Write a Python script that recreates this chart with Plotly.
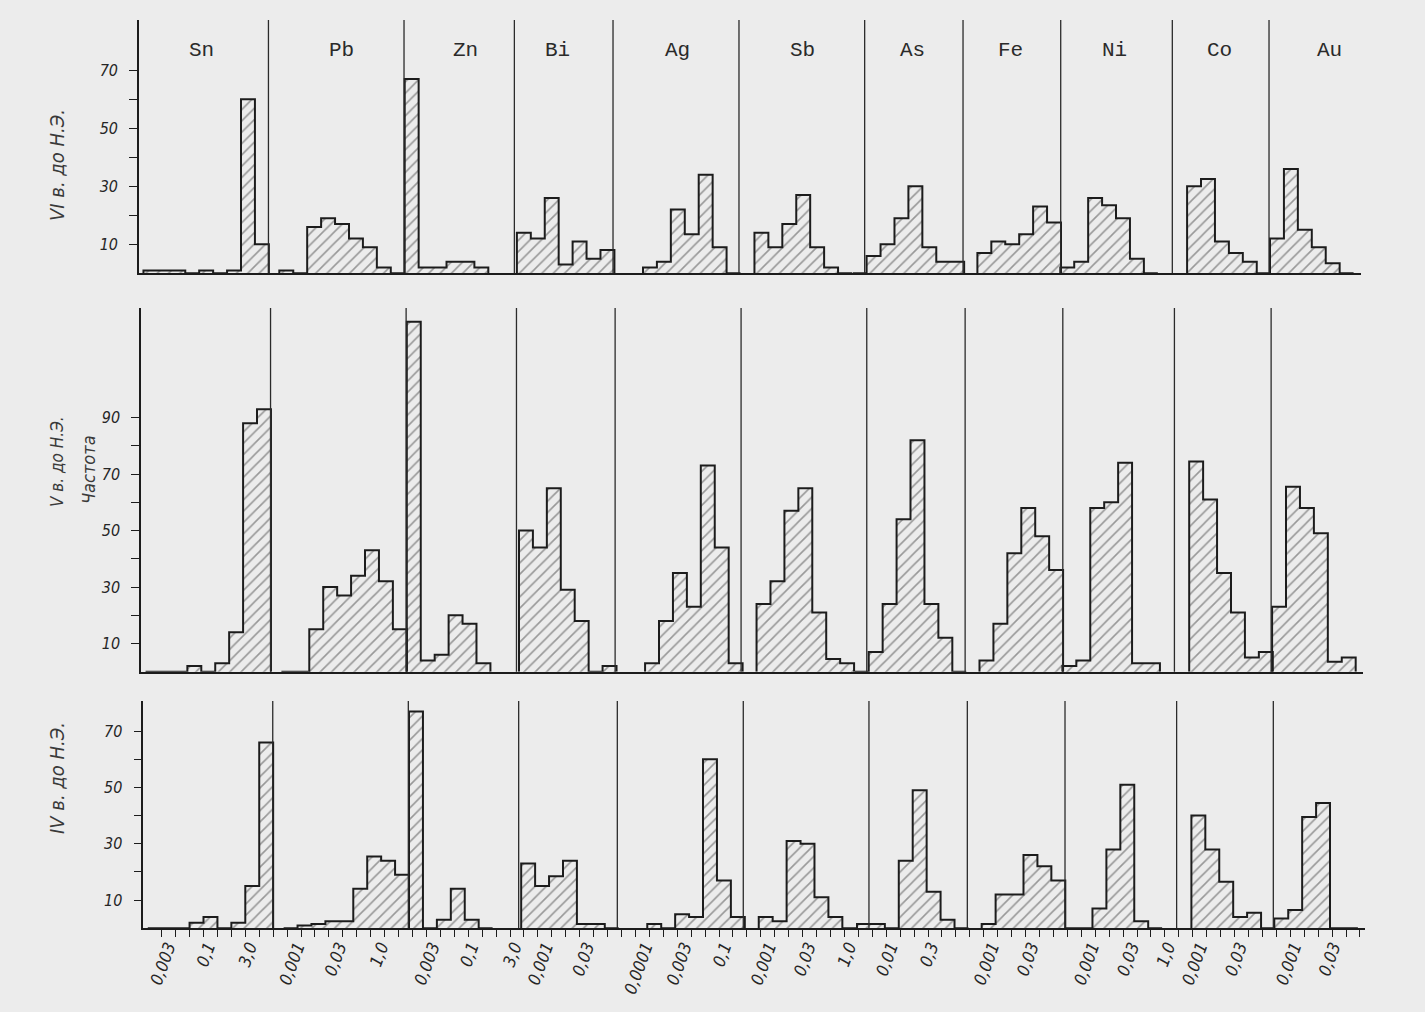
import plotly.graph_objects as go

# ---------------- data ----------------
ELEMENTS = ["Sn", "Pb", "Zn", "Bi", "Ag", "Sb", "As", "Fe", "Ni", "Co", "Au"]
PERIODS = ["VI в. до Н.Э.", "V в. до Н.Э.", "IV в. до Н.Э."]
Y_TITLE = "Частота"

# frequency per half-decade concentration bin (rows: VI, V, IV c. BC)
SN_VI = [1, 1, 1, 0, 1, 0, 1, 60, 10]
SN_V = [0, 0, 0, 2, 0, 3, 14, 88, 93]
SN_IV = [0, 0, 0, 2, 4, 0, 2, 15, 66]

PB_VI = [1, 0, 16, 19, 17, 12, 9, 2, 0]
PB_V = [0, 0, 15, 30, 27, 34, 43, 32, 15]
PB_IV = [0, 1, 1.5, 2.5, 2.5, 14, 25.5, 24, 19]

ZN_VI = [67, 2, 2, 4, 4, 2]
ZN_V = [124, 4, 6, 20, 17, 3]
ZN_IV = [77, 0, 3, 14, 3, 0]

BI_VI = [14, 12, 26, 3, 11, 5, 8]
BI_V = [50, 44, 65, 29, 18, 0, 2]
BI_IV = [23, 15, 18.5, 24, 1.5, 1.5, 0]

AG_VI = [2, 4, 22, 13.5, 34, 9, 0]
AG_V = [3, 18, 35, 23, 73, 44, 3]
AG_IV = [1.5, 0, 5, 4, 60, 17, 4]

SB_VI = [14, 9, 17, 27, 9, 2, 0]
SB_V = [24, 32, 57, 65, 21, 4.5, 3]
SB_IV = [4, 2.5, 31, 30, 11, 4, 0]

AS_VI = [0, 6, 10, 19, 30, 9, 4, 4]
AS_V = [0, 7, 24, 54, 82, 24, 12, 0]
AS_IV = [1.5, 1.5, 0, 24, 49, 13, 3, 0]

FE_VI = [7, 11, 10, 13.5, 23, 17.5]
FE_V = [4, 17, 42, 58, 48, 36]
FE_IV = [1.5, 12, 12, 26, 22, 17]

NI_VI = [2, 4, 26, 23.5, 19, 5, 0]
NI_V = [2, 4, 58, 60, 74, 3, 3]
NI_IV = [0, 0, 7, 28, 51, 2.5, 0]

CO_VI = [30, 32.5, 11, 7, 4, 0]
CO_V = [74.5, 61, 35, 21, 5, 7]
CO_IV = [40, 28, 16.5, 4, 5.5, 0]

AU_VI = [12, 36, 15, 9, 3.5, 0]
AU_V = [23, 65.5, 58, 49, 3.5, 5]
AU_IV = [3.5, 6.5, 39.5, 44.5, 0, 0]

# concentration tick labels (%) per element
TICKS = {
    "Sn": ["0,003", "0,1", "3,0"],
    "Pb": ["0,001", "0,03", "1,0"],
    "Zn": ["0,003", "0,1", "3,0"],
    "Bi": ["0,001", "0,03"],
    "Ag": ["0,0001", "0,003", "0,1"],
    "Sb": ["0,001", "0,03", "1,0"],
    "As": ["0,01", "0,3"],
    "Fe": ["0,001", "0,03"],
    "Ni": ["0,001", "0,03", "1,0"],
    "Co": ["0,001", "0,03"],
    "Au": ["0,001", "0,03"],
}

COUNTS = {
    "Sn": [SN_VI, SN_V, SN_IV], "Pb": [PB_VI, PB_V, PB_IV], "Zn": [ZN_VI, ZN_V, ZN_IV],
    "Bi": [BI_VI, BI_V, BI_IV], "Ag": [AG_VI, AG_V, AG_IV], "Sb": [SB_VI, SB_V, SB_IV],
    "As": [AS_VI, AS_V, AS_IV], "Fe": [FE_VI, FE_V, FE_IV], "Ni": [NI_VI, NI_V, NI_IV],
    "Co": [CO_VI, CO_V, CO_IV], "Au": [AU_VI, AU_V, AU_IV],
}

# ---------------- layout (positions in bin units on a shared log-concentration strip) ----------------
BIN_START = {"Sn": -1, "Pb": 8.75, "Zn": 17.75, "Bi": 25.8, "Ag": 34.85, "Sb": 42.85,
             "As": 49.9, "Fe": 58.85, "Ni": 64.8, "Co": 73.9, "Au": 79.85}
PANEL_LEFT = {"Sn": -1.32, "Pb": 7.97, "Zn": 17.7, "Bi": 25.62, "Ag": 32.7, "Sb": 41.74,
              "As": 50.76, "Fe": 57.82, "Ni": 64.83, "Co": 72.84, "Au": 79.78}
NAME_POS = {"Sn": 3.2, "Pb": 13.2, "Zn": 22.1, "Bi": 28.7, "Ag": 37.3, "Sb": 46.3,
            "As": 54.2, "Fe": 61.2, "Ni": 68.7, "Co": 76.2, "Au": 84.1}
TICK_POS = {
    "Sn": [0.45, 3.3, 6.3], "Pb": [9.71, 12.72, 15.73], "Zn": [19.4, 22.2, 25.3],
    "Bi": [27.55, 30.5], "Ag": [34.7, 37.5, 40.35], "Sb": [43.55, 46.4, 49.3],
    "As": [52.3, 55.2], "Fe": [59.56, 62.4], "Ni": [66.74, 69.6, 72.2],
    "Co": [74.5, 77.35], "Au": [81.25, 84.05],
}
X_RANGE = [-1.32, 86.36]

W, H = 1425, 1012
BG = "#ececec"
INK = "#1c1c1c"
ROW_PX_LEFT = [139.0, 141.1, 143.3]
ROW_PX_RIGHT = [1360.7, 1362.8, 1365.0]
ROW_PX_TOP = [20, 308, 701]
ROW_PX_BASE = [273.3, 671.7, 928.3]
ROW_PX_PER_UNIT = [2.9, 2.823, 2.817]
ROW_YTICKS = [list(range(10, 80, 10)), list(range(10, 100, 10)), list(range(10, 80, 10))]

NUM_FONT = dict(family="Liberation Sans Narrow, DejaVu Sans Condensed, DejaVu Sans",
                size=17, color="#262626", style="italic")

fig = go.Figure()

for r in range(3):
    xa = "x" if r == 0 else f"x{r + 1}"
    ya = "y" if r == 0 else f"y{r + 1}"
    for el in ELEMENTS:
        vals = COUNTS[el][r]
        start = BIN_START[el]
        bx = [start + i + 0.5 for i, v in enumerate(vals) if v > 0]
        by = [v for v in vals if v > 0]
        fig.add_trace(go.Bar(
            x=bx, y=by, width=1.0, xaxis=xa, yaxis=ya, showlegend=False,
            marker=dict(color="#444444",
                        pattern=dict(shape="/", fgcolor="#444444", bgcolor=BG,
                                     size=8, solidity=0.2),
                        line=dict(width=0)),
            hoverinfo="skip"))
        # stepped outline of the histogram
        ox, oy = [start], [0]
        for i, v in enumerate(vals):
            ox += [start + i, start + i + 1]
            oy += [v, v]
        ox.append(start + len(vals))
        oy.append(0)
        fig.add_trace(go.Scatter(x=ox, y=oy, mode="lines", xaxis=xa, yaxis=ya,
                                 line=dict(color=INK, width=2), showlegend=False,
                                 hoverinfo="skip"))
    # panel separators
    for el in ELEMENTS[1:]:
        fig.add_shape(type="line", xref=xa, yref=f"{ya} domain",
                      x0=PANEL_LEFT[el], x1=PANEL_LEFT[el], y0=0, y1=1,
                      line=dict(color="#2b2b2b", width=1.3), layer="above")

layout = dict(
    width=W, height=H, margin=dict(l=0, r=0, t=0, b=0),
    paper_bgcolor=BG, plot_bgcolor=BG, barmode="overlay", showlegend=False,
    bargap=0,
)

for r in range(3):
    xkey = "xaxis" if r == 0 else f"xaxis{r + 1}"
    ykey = "yaxis" if r == 0 else f"yaxis{r + 1}"
    ya = "y" if r == 0 else f"y{r + 1}"
    xa = "x" if r == 0 else f"x{r + 1}"
    ytop = (ROW_PX_BASE[r] - ROW_PX_TOP[r]) / ROW_PX_PER_UNIT[r]
    xax = dict(domain=[ROW_PX_LEFT[r] / W, ROW_PX_RIGHT[r] / W], range=X_RANGE,
               anchor=ya, showgrid=False, zeroline=False, showline=True,
               linecolor=INK, linewidth=2.2, fixedrange=True)
    if r == 2:
        tv, tt = [], []
        for el in ELEMENTS:
            tv += TICK_POS[el]
            tt += TICKS[el]
        xax.update(tickmode="array", tickvals=tv, ticktext=tt, tickangle=-70,
                   ticks="", tickfont=NUM_FONT,
                   minor=dict(tickmode="array", tickvals=list(range(0, 87)),
                              ticks="outside", ticklen=7, tickwidth=1.2,
                              tickcolor=INK, showgrid=False))
    else:
        xax.update(showticklabels=False, ticks="")
    yax = dict(domain=[1 - ROW_PX_BASE[r] / H, 1 - ROW_PX_TOP[r] / H],
               range=[0, ytop], anchor=xa, showgrid=False, zeroline=False,
               showline=True, linecolor=INK, linewidth=1.6,
               tickmode="array", tickvals=ROW_YTICKS[r],
               ticktext=[str(v) if (v // 10) % 2 == 1 else "" for v in ROW_YTICKS[r]],
               ticks="outside", ticklen=8, tickwidth=1.2, tickcolor=INK,
               tickfont=dict(NUM_FONT, size=16), ticklabelstandoff=8,
               fixedrange=True)
    layout[xkey] = xax
    layout[ykey] = yax

fig.update_layout(**layout)

# element names
for el in ELEMENTS:
    fig.add_annotation(x=NAME_POS[el], y=1 - 50 / H, xref="x", yref="paper",
                       xanchor="center", yanchor="middle",
                       text=el, showarrow=False,
                       font=dict(family="Liberation Mono, DejaVu Sans Mono", size=21,
                                 color="#2a2a2a"))

# row titles
TITLE_FAMILY = "Liberation Sans Narrow, DejaVu Sans Condensed, DejaVu Sans"
for txt, yc, fs in zip(PERIODS, [165, 462, 778], [20, 17, 20]):
    fig.add_annotation(x=57 / W, y=1 - yc / H, xref="paper", yref="paper", text=txt,
                       xanchor="center", yanchor="middle",
                       textangle=-90, showarrow=False,
                       font=dict(family=TITLE_FAMILY, size=fs, color="#3a3a3a",
                                 style="italic"))
fig.add_annotation(x=88 / W, y=1 - 470 / H, xref="paper", yref="paper", text=Y_TITLE,
                   xanchor="center", yanchor="middle",
                   textangle=-90, showarrow=False,
                   font=dict(family=TITLE_FAMILY, size=18, color="#3a3a3a",
                             style="italic"))

fig.write_html("out.html")
